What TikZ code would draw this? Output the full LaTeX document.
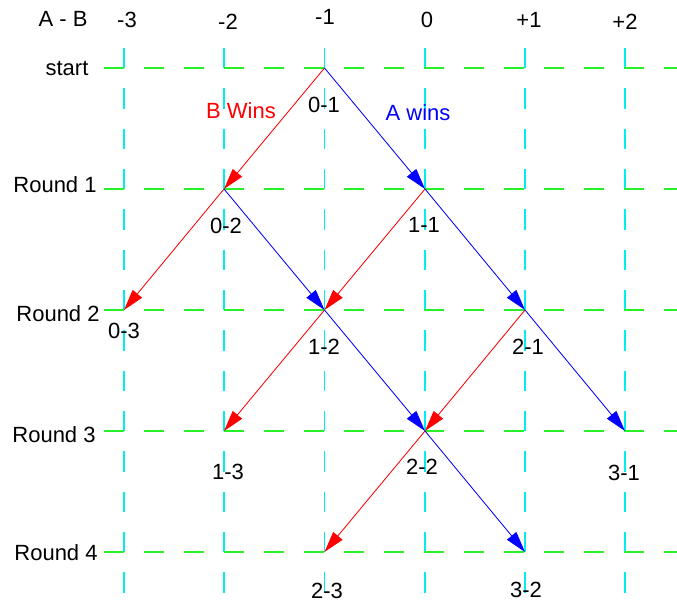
\documentclass[tikz,border=0pt]{standalone}
\usepackage{fontspec}
\setmainfont{Liberation Sans}
\usetikzlibrary{arrows.meta}

\definecolor{gridgreen}{RGB}{40,240,40}
\definecolor{gridcyan}{RGB}{0,238,238}

\begin{document}
\begin{tikzpicture}[x=1pt, y=-1pt, >={Triangle[length=21pt, width=12pt]},
  font=\fontsize{22}{26}\selectfont,
  hline/.style={draw=gridgreen, line width=1.5pt, dash pattern=on 20pt off 20pt},
  vline/.style={draw=gridcyan, line width=1.5pt, dash pattern=on 20.17pt off 20.17pt},
  bwin/.style={->, draw=red, fill=red, line width=0.8pt},
  awin/.style={->, draw=blue, fill=blue, line width=0.8pt},
  lbl/.style={inner sep=0pt}]
  \useasboundingbox (0,0) rectangle (677,606);

  % grid
  \draw[vline] (124,48) -- (124,594);
  \draw[vline] (224,48) -- (224,594);
  \draw[vline] (324.5,48) -- (324.5,594);
  \draw[vline] (425,48) -- (425,594);
  \draw[vline] (525,48) -- (525,594);
  \draw[vline] (625,48) -- (625,594);
  \draw[hline] (104,68) -- (677,68);
  \draw[hline] (104,189) -- (677,189);
  \draw[hline] (104,310) -- (677,310);
  \draw[hline] (104,431) -- (677,431);
  \draw[hline] (104,552) -- (677,552);

  % header and rows
  \node[lbl] (ab) at (63,19) {A - B};
  \node[lbl] (cm3) at (127,20) {-3};
  \node[lbl] (cm2) at (228,22) {-2};
  \node[lbl] (cm1) at (325,17) {-1};
  \node[lbl] (c0) at (427,20) {0};
  \node[lbl] (cp1) at (529,20) {+1};
  \node[lbl] (cp2) at (625,22) {+2};
  \node[lbl] (rstart) at (67,68) {start};
  \node[lbl] (r1) at (55,185) {Round 1};
  \node[lbl] (r2) at (58,314) {Round 2};
  \node[lbl] (r3) at (54,435) {Round 3};
  \node[lbl] (r4) at (56,553) {Round 4};

  % states
  \coordinate (s01) at (324.5,68);
  \coordinate (s02) at (224,189);
  \coordinate (s11) at (425,189);
  \coordinate (s03) at (124,310);
  \coordinate (s12) at (324.5,310);
  \coordinate (s21) at (525,310);
  \coordinate (s13) at (224,431);
  \coordinate (s22) at (425,431);
  \coordinate (s31) at (625,431);
  \coordinate (s23) at (324.5,552);
  \coordinate (s32) at (525,552);

  \node[lbl] (t01) at (324,105) {0-1};
  \node[lbl] (t02) at (226,226) {0-2};
  \node[lbl] (t11) at (424,225) {1-1};
  \node[lbl] (t03) at (124,331) {0-3};
  \node[lbl] (t12) at (324,347) {1-2};
  \node[lbl] (t21) at (528,347) {2-1};
  \node[lbl] (t13) at (228,472) {1-3};
  \node[lbl] (t22) at (422,467) {2-2};
  \node[lbl] (t31) at (624,473) {3-1};
  \node[lbl] (t23) at (327,591) {2-3};
  \node[lbl] (t32) at (526,590) {3-2};

  \node[lbl, text=red] (bw) at (241,111) {B Wins};
  \node[lbl, text=blue] (aw) at (418,113) {A wins};

  % moves
  \draw[bwin] (s01) -- (s02);
  \draw[bwin] (s02) -- (s03);
  \draw[bwin] (s11) -- (s12);
  \draw[bwin] (s12) -- (s13);
  \draw[bwin] (s21) -- (s22);
  \draw[bwin] (s22) -- (s23);
  \draw[awin] (s01) -- (s11);
  \draw[awin] (s02) -- (s12);
  \draw[awin] (s11) -- (s21);
  \draw[awin] (s12) -- (s22);
  \draw[awin] (s21) -- (s31);
  \draw[awin] (s22) -- (s32);
\end{tikzpicture}
\end{document}
